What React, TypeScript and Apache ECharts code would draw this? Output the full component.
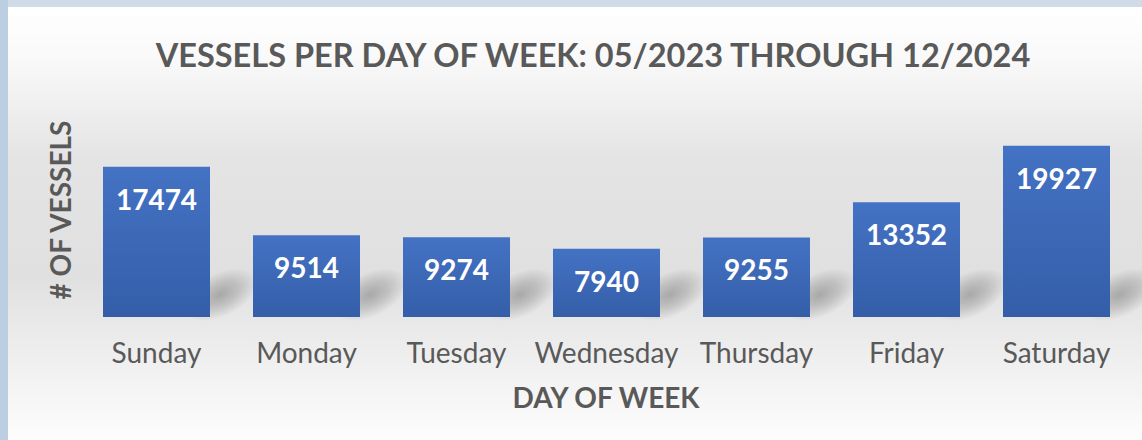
import React, { useEffect, useRef } from "react";
import * as echarts from "echarts";

const categories = ["Sunday", "Monday", "Tuesday", "Wednesday", "Thursday", "Friday", "Saturday"];
const vessels = [17474, 9514, 9274, 7940, 9255, 13352, 19927];
const titleText = "VESSELS PER DAY OF WEEK: 05/2023 THROUGH 12/2024";
const yTitle = "# OF VESSELS";
const xTitle = "DAY OF WEEK";

const FONT = "Lato";
const GREY = "#595959";

export default function App() {
  const ref = useRef<HTMLDivElement>(null);
  useEffect(() => {
    const chart = echarts.init(ref.current!, null, { renderer: "svg" });
    chart.setOption({
      animation: false,
      backgroundColor: "#cfdbe7",
      title: {
        text: titleText,
        left: 588,
        top: 33,
        textAlign: "center",
        textStyle: { fontFamily: FONT, fontSize: 32.5, fontWeight: "bold", color: GREY },
      },
      graphic: [
        { type: "rect", z: -10, shape: { x: 0, y: 0, width: 8, height: 440 }, style: { fill: "#bccfe2" } },
        {
          type: "rect",
          z: -10,
          shape: { x: 8, y: 7, width: 1134, height: 433 },
          style: {
            fill: new echarts.graphic.LinearGradient(0, 0, 0, 1, [
              { offset: 0, color: "#ffffff" },
              { offset: 0.12, color: "#f9f9f9" },
              { offset: 0.35, color: "#e4e4e4" },
              { offset: 0.62, color: "#e0e0e0" },
              { offset: 0.8, color: "#eeeeee" },
              { offset: 1, color: "#fdfdfd" },
            ]),
          },
        },
        {
          type: "text",
          x: 60,
          y: 210,
          rotation: Math.PI / 2,
          style: {
            text: yTitle,
            fontFamily: FONT,
            fontSize: 28,
            fontWeight: "bold",
            fill: GREY,
            align: "center",
            verticalAlign: "middle",
          },
        },
        {
          type: "text",
          x: 606,
          y: 397,
          style: {
            text: xTitle,
            fontFamily: FONT,
            fontSize: 28,
            fontWeight: "bold",
            fill: GREY,
            align: "center",
            verticalAlign: "middle",
          },
        },
      ],
      grid: { left: 81.5, right: 10.5, top: 145, bottom: 123, containLabel: false },
      xAxis: {
        type: "category",
        data: categories,
        axisLine: { show: false },
        axisTick: { show: false },
        axisLabel: { fontFamily: FONT, fontSize: 28, color: GREY, margin: 21, interval: 0 },
      },
      yAxis: { type: "value", min: 0, max: 20000, show: false },
      series: [
        {
          type: "custom",
          silent: true,
          z: 1,
          data: vessels.map((v, i) => [i, v]),
          renderItem: (params: any, api: any) => {
            const base = api.coord([api.value(0), 0]);
            const right = base[0] + 53.5;
            const b = base[1];
            const cx = right + 10;
            const cy = b - 22;
            return {
              type: "ellipse",
              shape: { cx, cy, rx: 40, ry: 22 },
              rotation: 0.45,
              originX: cx,
              originY: cy,
              style: {
                fill: new echarts.graphic.RadialGradient(0.5, 0.5, 0.5, [
                  { offset: 0, color: "rgba(0,0,0,0.26)" },
                  { offset: 0.5, color: "rgba(0,0,0,0.15)" },
                  { offset: 1, color: "rgba(0,0,0,0)" },
                ]),
              },
            };
          },
        },
        {
          type: "bar",
          z: 3,
          data: vessels,
          barWidth: 107,
          itemStyle: {
            color: new echarts.graphic.LinearGradient(0, 0, 0, 1, [
              { offset: 0, color: "#4472c4" },
              { offset: 1, color: "#345ea8" },
            ]),
          },
          label: {
            show: true,
            position: "insideTop",
            distance: 18,
            fontFamily: FONT,
            fontSize: 28,
            fontWeight: "bold",
            color: "#ffffff",
          },
        },
      ],
    });
    return () => chart.dispose();
  }, []);
  return <div ref={ref} style={{ position: "fixed", left: 0, top: 0, width: 1142, height: 440 }} />;
}
